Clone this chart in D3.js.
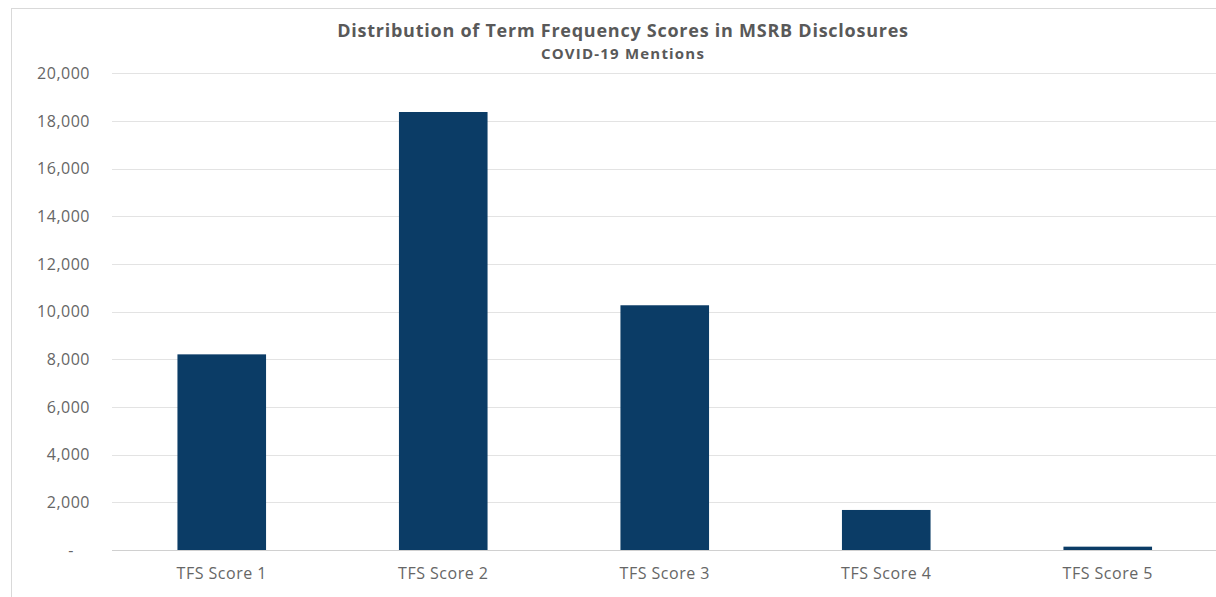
<!DOCTYPE html>
<html>
<head>
<meta charset="utf-8">
<script src="https://cdn.jsdelivr.net/npm/d3@7"></script>
<style>
  html, body { margin: 0; padding: 0; background: #fff; }
  svg { display: block; }
</style>
</head>
<body>
<svg id="chart" width="1216" height="597"></svg>
<script>
const categories = ["TFS Score 1", "TFS Score 2", "TFS Score 3", "TFS Score 4", "TFS Score 5"];
const values = [8210, 18380, 10270, 1680, 140];
const yTicks = [0, 2000, 4000, 6000, 8000, 10000, 12000, 14000, 16000, 18000, 20000];
const titleText = "Distribution of Term Frequency Scores in MSRB Disclosures";
const subtitleText = "COVID-19 Mentions";

const svg = d3.select("#chart");
const W = 1216, H = 597;
const font = "'Open Sans', 'Noto Sans', sans-serif";
const textColor = "#595959";
const labelColor = "#666666";

// frame
svg.append("rect")
  .attr("x", 11.5).attr("y", 8.5)
  .attr("width", W + 10).attr("height", H + 10)
  .attr("fill", "#fff").attr("stroke", "#d9d9d9").attr("stroke-width", 1);

const x = d3.scaleBand()
  .domain(categories)
  .range([111, 1218.5])
  .paddingInner(0.6)
  .paddingOuter(0.3);

const y = d3.scaleLinear()
  .domain([0, 20000])
  .range([550, 73.4]);

// gridlines
svg.append("g")
  .selectAll("line")
  .data(yTicks)
  .join("line")
  .attr("x1", 112).attr("x2", W)
  .attr("y1", d => Math.round(y(d)) + 0.5)
  .attr("y2", d => Math.round(y(d)) + 0.5)
  .attr("stroke", d => d === 0 ? "#d0d0d0" : "#e3e3e3")
  .attr("stroke-width", 1);

// y axis labels
const fmt = d3.format(",");
const yAxis = d3.axisLeft(y)
  .tickValues(yTicks)
  .tickSize(0)
  .tickPadding(0)
  .tickFormat(d => d === 0 ? "-" : fmt(d));
const gy = svg.append("g")
  .attr("transform", "translate(90,0)")
  .call(yAxis);
gy.select(".domain").remove();
gy.selectAll("text")
  .attr("fill", labelColor)
  .attr("font-family", font)
  .attr("font-size", "16px")
  .attr("letter-spacing", "0.5px")
  .attr("dx", d => d === 0 ? "-16px" : 0);

// bars
svg.append("g")
  .selectAll("rect")
  .data(values)
  .join("rect")
  .attr("x", (d, i) => x(categories[i]))
  .attr("width", x.bandwidth())
  .attr("y", d => y(d))
  .attr("height", d => y(0) - y(d))
  .attr("fill", "#0b3c66");

// x axis labels
const xAxis = d3.axisBottom(x).tickSize(0).tickPadding(0);
const gx = svg.append("g")
  .attr("transform", "translate(0,568)")
  .call(xAxis);
gx.select(".domain").remove();
gx.selectAll("text")
  .attr("fill", labelColor)
  .attr("font-family", font)
  .attr("font-size", "16px")
  .attr("letter-spacing", "0.5px");

// titles
svg.append("text")
  .attr("x", 623).attr("y", 37)
  .attr("text-anchor", "middle")
  .attr("fill", textColor)
  .attr("font-family", font)
  .attr("font-weight", "bold")
  .attr("font-size", "18px")
  .attr("letter-spacing", "0.75px")
  .text(titleText);

svg.append("text")
  .attr("x", 623).attr("y", 59)
  .attr("text-anchor", "middle")
  .attr("fill", textColor)
  .attr("font-family", font)
  .attr("font-weight", "bold")
  .attr("font-size", "15px")
  .attr("letter-spacing", "1.2px")
  .text(subtitleText);
</script>
</body>
</html>
